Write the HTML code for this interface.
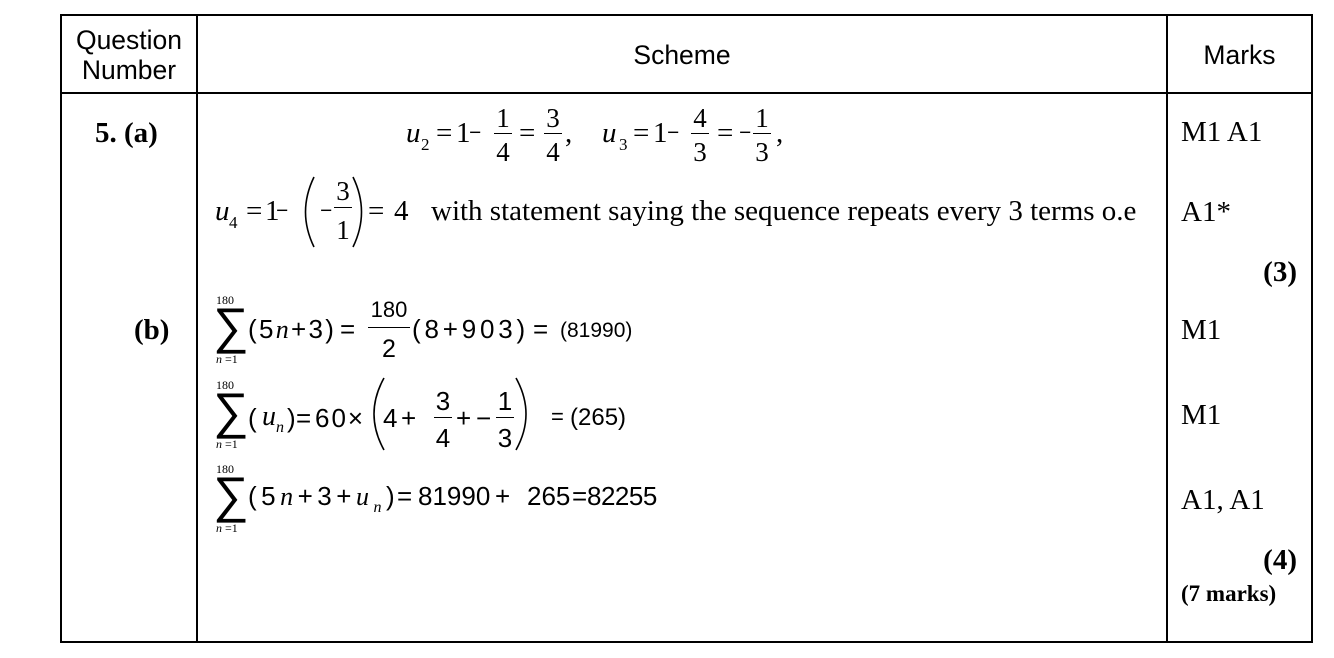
<!DOCTYPE html>
<html><head><meta charset="utf-8"><style>
body{margin:0;width:1334px;height:658px;background:#fff;position:relative;overflow:hidden;color:#000}
.a{position:absolute;white-space:nowrap;line-height:1}
.s{font-family:"Liberation Serif",serif;font-size:29px}
.f{font-family:"Liberation Serif",serif;font-size:27px;width:30px;text-align:center}
.ss{font-family:"Liberation Sans",sans-serif;font-size:26px}
.h{font-family:"Liberation Sans",sans-serif;font-size:26.5px;text-align:center;line-height:30px}
.i{font-style:italic;font-family:"Liberation Serif",serif}
.b{font-weight:bold}
.ln{position:absolute;background:#000}
.sub{font-size:17px}
.sm{font-family:"Liberation Serif",serif;font-size:12px}
.m{transform:scaleX(0.75);transform-origin:left}
</style></head><body>
<div class="ln" style="left:60px;top:14px;width:1253px;height:2px"></div>
<div class="ln" style="left:60px;top:641px;width:1253px;height:2px"></div>
<div class="ln" style="left:60px;top:92px;width:1253px;height:2px"></div>
<div class="ln" style="left:60px;top:14px;width:2px;height:629px"></div>
<div class="ln" style="left:196px;top:14px;width:2px;height:629px"></div>
<div class="ln" style="left:1166px;top:14px;width:2px;height:629px"></div>
<div class="ln" style="left:1311px;top:14px;width:2px;height:629px"></div>
<!-- header -->
<div class="a h" style="left:62px;width:134px;top:25px">Question<br>Number</div>
<div class="a h" style="left:198px;width:968px;top:40px">Scheme</div>
<div class="a h" style="left:1168px;width:143px;top:40px">Marks</div>
<div class="a s b" style="left:95px;top:119px">5. (a)</div>
<div class="a s b" style="left:134px;top:316px">(b)</div>

<!-- row 1 -->
<div class="a s i" style="left:406px;top:119px">u</div>
<div class="a s sub" style="left:421px;top:136px">2</div>
<div class="a s" style="left:436px;top:119px">=</div>
<div class="a s" style="left:456px;top:119px">1</div>
<div class="a s m" style="left:469px;top:119px">−</div>
<div class="a f" style="left:488px;top:105px">1</div>
<div class="ln" style="left:494px;top:133px;width:18px;height:1.3px"></div>
<div class="a f" style="left:488px;top:139px">4</div>
<div class="a s" style="left:519px;top:119px">=</div>
<div class="a f" style="left:538px;top:105px">3</div>
<div class="ln" style="left:544px;top:133px;width:18px;height:1.3px"></div>
<div class="a f" style="left:538px;top:139px">4</div>
<div class="a s" style="left:565px;top:119px">,</div>
<div class="a s i" style="left:602px;top:119px">u</div>
<div class="a s sub" style="left:619px;top:136px">3</div>
<div class="a s" style="left:633px;top:119px">=</div>
<div class="a s" style="left:653px;top:119px">1</div>
<div class="a s m" style="left:667px;top:119px">−</div>
<div class="a f" style="left:685px;top:105px">4</div>
<div class="ln" style="left:691px;top:133px;width:18px;height:1.3px"></div>
<div class="a f" style="left:685px;top:139px">3</div>
<div class="a s" style="left:717px;top:119px">=</div>
<div class="a s m" style="left:739px;top:119px">−</div>
<div class="a f" style="left:747px;top:105px">1</div>
<div class="ln" style="left:753px;top:133px;width:18px;height:1.3px"></div>
<div class="a f" style="left:747px;top:139px">3</div>
<div class="a s" style="left:776px;top:119px">,</div>

<!-- row 2 -->
<div class="a s i" style="left:215px;top:197px">u</div>
<div class="a s sub" style="left:229px;top:214px">4</div>
<div class="a s" style="left:246px;top:197px">=</div>
<div class="a s" style="left:265px;top:197px">1</div>
<div class="a s m" style="left:276px;top:197px">−</div>
<div class="a s m" style="left:320px;top:197px">−</div>
<div class="a f" style="left:328px;top:178px">3</div>
<div class="ln" style="left:334px;top:207px;width:18px;height:1.3px"></div>
<div class="a f" style="left:328px;top:217px">1</div>
<div class="a s" style="left:368px;top:197px">=</div>
<div class="a s" style="left:394px;top:197px">4</div>
<div class="a s" style="left:431px;top:197px">with statement saying the sequence repeats every 3 terms o.e</div>
<svg class="a" style="left:0;top:0" width="1334" height="658">
<g fill="none" stroke="#000" stroke-width="1.6">
<path d="M314,177 Q297,212 314,247"/>
<path d="M353,177 Q370,212 353,247"/>
<path d="M384,378 Q364,414 384,450"/>
<path d="M516,378 Q536,414 516,450"/>
</g></svg>

<!-- sum 1 -->
<div class="a sm" style="left:216px;top:294px">180</div>
<div class="a ss" style="left:213px;top:301px;font-size:50px">∑</div>
<div class="a sm" style="left:216px;top:353px"><span class="i">n</span> =1</div>
<div class="a ss" style="left:248px;top:316px;letter-spacing:2.3px">(5<span class="i">n</span>+3)</div>
<div class="a ss" style="left:340px;top:316px">=</div>
<div class="a ss" style="left:368px;top:299px;font-size:22px;width:42px;text-align:center">180</div>
<div class="ln" style="left:368px;top:327px;width:42px;height:1.3px"></div>
<div class="a ss" style="left:368px;top:337px;font-size:25px;width:42px;text-align:center">2</div>
<div class="a ss" style="left:412px;top:316px;letter-spacing:3.8px">(8+903)</div>
<div class="a ss" style="left:533px;top:316px">=</div>
<div class="a ss" style="left:560px;top:320px;font-size:21px">(81990)</div>

<!-- sum 2 -->
<div class="a sm" style="left:216px;top:379px">180</div>
<div class="a ss" style="left:213px;top:386px;font-size:50px">∑</div>
<div class="a sm" style="left:216px;top:438px"><span class="i">n</span> =1</div>
<div class="a ss" style="left:248px;top:405px">(</div>
<div class="a s i" style="left:262px;top:403px;font-size:28px">u</div>
<div class="a s i sub" style="left:276px;top:420px;font-size:16px">n</div>
<div class="a ss" style="left:287px;top:405px">)</div>
<div class="a ss" style="left:296px;top:405px">=</div>
<div class="a ss" style="left:315px;top:405px;letter-spacing:2px">60×</div>
<div class="a ss" style="left:383px;top:405px">4</div>
<div class="a ss" style="left:401px;top:405px">+</div>
<div class="a ss" style="left:428px;top:388px;width:30px;text-align:center">3</div>
<div class="ln" style="left:434px;top:417px;width:18px;height:1.3px"></div>
<div class="a ss" style="left:428px;top:425px;width:30px;text-align:center">4</div>
<div class="a ss" style="left:456px;top:405px">+</div>
<div class="a ss" style="left:476px;top:405px">−</div>
<div class="a ss" style="left:490px;top:388px;width:30px;text-align:center">1</div>
<div class="ln" style="left:496px;top:417px;width:18px;height:1.3px"></div>
<div class="a ss" style="left:490px;top:425px;width:30px;text-align:center">3</div>
<div class="a ss" style="left:551px;top:406px;font-size:22px">=</div>
<div class="a ss" style="left:570px;top:406px;font-size:24px">(265)</div>

<!-- sum 3 -->
<div class="a sm" style="left:216px;top:463px">180</div>
<div class="a ss" style="left:213px;top:470px;font-size:50px">∑</div>
<div class="a sm" style="left:216px;top:522px"><span class="i">n</span> =1</div>
<div class="a ss" style="left:248px;top:483px;letter-spacing:4.5px">(5<span class="i">n</span>+3+<span class="i">u</span><span class="i" style="font-size:16px;position:relative;top:7px">n</span>)</div>
<div class="a ss" style="left:397px;top:483px">=</div>
<div class="a ss" style="left:418px;top:483px">81990</div>
<div class="a ss" style="left:495px;top:483px">+</div>
<div class="a ss" style="left:527px;top:483px">265</div>
<div class="a ss" style="left:572px;top:483px">=</div>
<div class="a ss" style="left:587px;top:483px;letter-spacing:-0.5px">82255</div>

<!-- marks -->
<div class="a s" style="left:1181px;top:118px">M1 A1</div>
<div class="a s" style="left:1181px;top:198px">A1*</div>
<div class="a s b" style="right:37px;top:258px">(3)</div>
<div class="a s" style="left:1181px;top:316px">M1</div>
<div class="a s" style="left:1181px;top:401px">M1</div>
<div class="a s" style="left:1181px;top:486px">A1, A1</div>
<div class="a s b" style="right:37px;top:546px">(4)</div>
<div class="a s b" style="left:1181px;top:582px;font-size:23px">(7 marks)</div>
</body></html>
